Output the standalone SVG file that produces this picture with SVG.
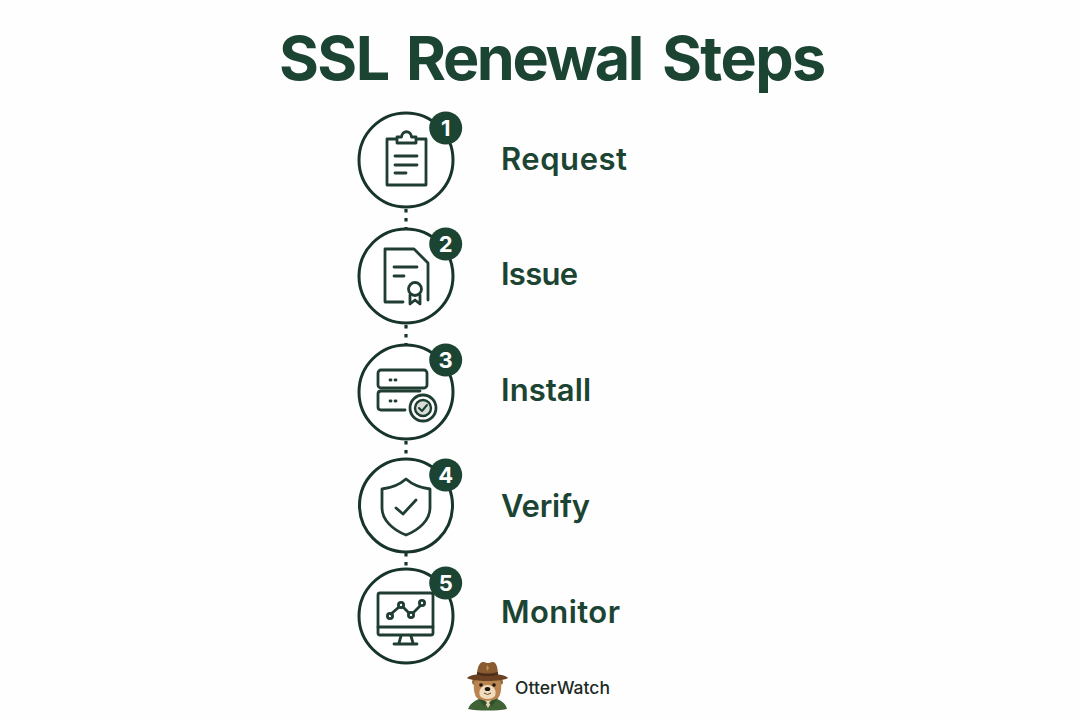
<svg xmlns="http://www.w3.org/2000/svg" width="1080" height="720" viewBox="0 0 1080 720">
<style>
text{font-family:"Inter","Liberation Sans",sans-serif;fill:#1c4433}
.title{font-size:61px;font-weight:650;letter-spacing:-1.600px}
.label{font-size:31px;font-weight:600}
.ring{fill:#fff;stroke:#17352a;stroke-width:3}
.badge{fill:#1c4433}
.num{font-size:22px;font-weight:700;fill:#fff;text-anchor:middle}
.ic{fill:none;stroke:#1f3d30;stroke-width:2.800;stroke-linecap:round;stroke-linejoin:round}
.dot{fill:none;stroke:#17352a;stroke-width:3.200;stroke-dasharray:3.500 5.500}
</style>
<rect width="1080" height="720" fill="#fefefe"/>
<text class="title" id="title" y="79.500"><tspan x="279">SSL</tspan> <tspan x="406" style="letter-spacing:-2.400px">Renewal</tspan> <tspan x="662">Steps</tspan></text>
<g id="connectors">
<line class="dot" x1="406" y1="209" x2="406" y2="228"/>
<line class="dot" x1="406" y1="325" x2="406" y2="344"/>
<line class="dot" x1="406" y1="441" x2="406" y2="459"/>
<line class="dot" x1="406" y1="553" x2="406" y2="568"/>
</g>
<g id="step1">
<circle class="ring" cx="406" cy="160" r="47"/>
<path class="ic" d="M397 139H387V185H426V139H416M397 143V137H401.500C402 130 411 130 411.500 137H416V143Z"/>
<path class="ic" d="M395 156H417M395 165H417M395 173H406"/>
<circle class="badge" cx="445.700" cy="128" r="16.500"/><text class="num" x="445.700" y="136">1</text>
<text class="label" x="501" y="170" textLength="126" lengthAdjust="spacing">Request</text>
</g>
<g id="step2">
<circle class="ring" cx="406" cy="276" r="47"/>
<path class="ic" d="M403 302H385V249H414L428 263V300M394 267H417M394 276H404"/>
<circle class="ic" cx="415" cy="289" r="6.500"/>
<path class="ic" d="M410 295V304L415 300L420 304V295"/>
<circle class="badge" cx="445.700" cy="244" r="16.500"/><text class="num" x="445.700" y="252">2</text>
<text class="label" x="501" y="285" textLength="77" lengthAdjust="spacing">Issue</text>
</g>
<g id="step3">
<circle class="ring" cx="406" cy="392" r="47"/>
<rect class="ic" x="378" y="370" width="49" height="18" rx="3"/>
<path class="ic" d="M405 410H381Q378 410 378 407V394Q378 391 381 391H420"/>
<path class="ic" d="M390 380H391M395 380H396M390 401H391M395 401H396"/>
<circle cx="423" cy="408" r="13" fill="#fff" stroke="#1f3d30" stroke-width="2.800"/>
<circle cx="423" cy="408" r="8" fill="#1f3d30" fill-opacity=".18" stroke="#1f3d30" stroke-width="2.400"/>
<path class="ic" style="stroke-width:2" d="M419 408L422 411L427 405"/>
<circle class="badge" cx="445.700" cy="360" r="16.500"/><text class="num" x="445.700" y="368">3</text>
<text class="label" x="501" y="401" textLength="90" lengthAdjust="spacing">Install</text>
</g>
<g id="step4">
<circle class="ring" cx="406" cy="505.500" r="46.500"/>
<path class="ic" d="M406 479C398 486 391 488 382 489V508C382 520 393 530 406 535C419 530 430 520 430 508V489C421 488 414 486 406 479Z"/>
<path class="ic" d="M396 508L403 514L416 500"/>
<circle class="badge" cx="445.700" cy="475" r="16.500"/><text class="num" x="445.700" y="483">4</text>
<text class="label" x="501" y="517" textLength="89" lengthAdjust="spacing">Verify</text>
</g>
<g id="step5">
<circle class="ring" cx="406" cy="616" r="47"/>
<rect class="ic" x="378" y="593" width="55" height="42" rx="2"/>
<path class="ic" d="M378 627H433M401 636L399 643M411 636L413 643M394 644H417"/>
<path class="ic" d="M391 614L399 607M403 607L409 613M413 613L420 606"/>
<g class="ic"><circle cx="390" cy="616" r="2.600"/><circle cx="401" cy="605" r="2.600"/><circle cx="411" cy="615" r="2.600"/><circle cx="422" cy="603" r="2.600"/></g>
<circle class="badge" cx="445.700" cy="583" r="16.500"/><text class="num" x="445.700" y="591">5</text>
<text class="label" x="501" y="623" textLength="119" lengthAdjust="spacing">Monitor</text>
</g>
<g id="mascot">
<path d="M468 709C471 702 476 700 482 698H494C500 700 505 702 507 709C497 711 478 711 468 709Z" fill="#3f6335"/>
<path d="M482 698L488 708L494 698Z" fill="#e9d2ae"/>
<path d="M478 698L484 706L487 703L481 696ZM498 698L492 706L489 703L495 696Z" fill="#2f4f2a"/>
<circle cx="475" cy="682" r="3" fill="#9b6a3c"/><circle cx="500" cy="682" r="3" fill="#9b6a3c"/>
<path d="M476 697C473 690 473 684 476 678H499C502 684 502 690 499 697C494 702 481 702 476 697Z" fill="#b98450"/>
<path d="M480 696C478 691 481 685 487.500 685C494 685 497 691 495 696C492 700 483 700 480 696Z" fill="#f0dcbc"/>
<circle cx="481" cy="685" r="1.800" fill="#1d1510"/><circle cx="494" cy="685" r="1.800" fill="#1d1510"/>
<ellipse cx="487.500" cy="689" rx="2.800" ry="2" fill="#1d1510"/>
<path d="M484 693Q487.500 696 491 693" fill="none" stroke="#6b4426" stroke-width="1"/>
<path d="M467 678C472 672 503 672 508 678C503 682 472 682 467 678Z" fill="#6a4122"/>
<path d="M477 675C477 667 480 661 484 662Q488 664 492 662C496 661 498 667 498 675C492 677 483 677 477 675Z" fill="#8a5a30"/>
<path d="M477 672Q488 675 498 672V675Q488 678 477 675Z" fill="#4d2f18"/>
<path d="M487.500 665L489 668L487.500 671L486 668Z" fill="#c08a52"/>
</g>
<text id="brand" x="515" y="694" font-size="17.500" font-weight="500" style="fill:#1c2b25" textLength="95" lengthAdjust="spacing">OtterWatch</text>
</svg>
